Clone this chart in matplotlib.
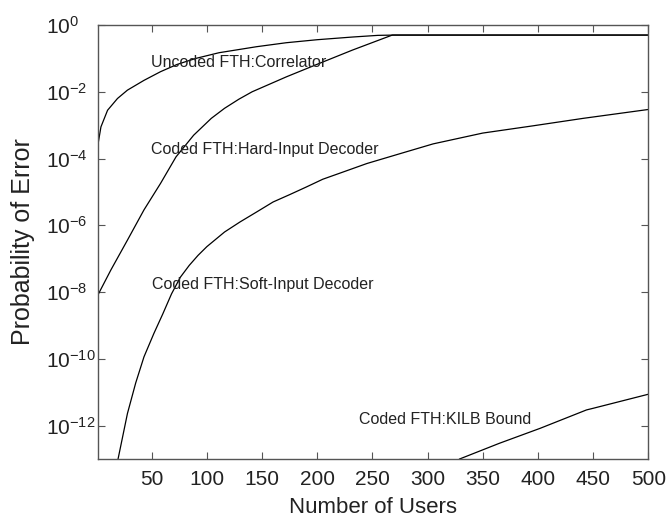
import matplotlib
matplotlib.use('Agg')

import numpy as np
import matplotlib.pyplot as plt
from matplotlib.ticker import FixedLocator, LogFormatterMathtext, NullLocator

plt.rcParams['font.family'] = 'Liberation Sans'
plt.rcParams['mathtext.fontset'] = 'custom'
plt.rcParams['mathtext.rm'] = 'Liberation Sans'
plt.rcParams['mathtext.it'] = 'Liberation Sans'
plt.rcParams['mathtext.default'] = 'regular'

# values (probability of error vs number of users)
uncoded_x = [1, 4, 10, 19, 28, 43, 58, 73, 90, 111, 145, 172, 200, 232, 255, 270, 500]
uncoded_p = [2.3e-4, 8.9e-4, 2.8e-3, 6.3e-3, 1.12e-2, 2.2e-2, 4.0e-2, 6.6e-2, 0.10,
             0.148, 0.224, 0.295, 0.363, 0.437, 0.49, 0.5, 0.5]

hard_x = [1, 13, 28, 43, 58, 72, 88, 104, 116, 129, 141, 172, 202, 232, 268, 500]
hard_p = [7.9e-9, 4.6e-8, 3.6e-7, 2.9e-6, 1.8e-5, 1.12e-4, 5.0e-4, 1.6e-3, 3.2e-3,
          6.0e-3, 1.0e-2, 2.8e-2, 7.1e-2, 0.178, 0.5, 0.5]

soft_x = [19.5, 28, 35.5, 43, 52, 60, 68, 76, 84, 92, 100, 116, 130, 145, 160, 175,
          190, 205, 220, 245, 275, 305, 350, 395, 441, 500]
soft_p = [1.0e-13, 2.3e-12, 1.9e-11, 1.15e-10, 5.8e-10, 2.2e-9, 8.9e-9, 2.8e-8,
          6.3e-8, 1.26e-7, 2.3e-7, 6.3e-7, 1.26e-6, 2.5e-6, 5.0e-6, 8.3e-6,
          1.4e-5, 2.4e-5, 3.6e-5, 7.1e-5, 1.4e-4, 2.75e-4, 5.8e-4, 9.5e-4,
          1.6e-3, 2.95e-3]

kilb_x = [329, 365, 402, 444, 450, 500]
kilb_p = [1.0e-13, 2.95e-13, 8.3e-13, 2.95e-12, 3.3e-12, 8.7e-12]

xticks = [50, 100, 150, 200, 250, 300, 350, 400, 450, 500]
yticks = [1e-12, 1e-10, 1e-8, 1e-6, 1e-4, 1e-2, 1e0]

fig = plt.figure(figsize=(6.66, 5.18), dpi=100)
ax = fig.add_axes([0.1466, 0.1139, 0.8268, 0.8378])

for xs, ps in [(uncoded_x, uncoded_p), (hard_x, hard_p), (soft_x, soft_p), (kilb_x, kilb_p)]:
    ax.plot(xs, ps, color='black', linewidth=0.9)

ax.set_yscale('log')
ax.set_xlim(1, 500)
ax.set_ylim(1e-13, 1)
ax.xaxis.set_major_locator(FixedLocator(xticks))
ax.yaxis.set_major_locator(FixedLocator(yticks))
ax.yaxis.set_major_formatter(LogFormatterMathtext())
ax.yaxis.set_minor_locator(NullLocator())
ax.tick_params(direction='in', top=True, right=True, length=5, width=0.8,
               color='#555555', labelsize=15, labelcolor='#222222')
ax.tick_params(axis='x', pad=8)
# the "10" of every y label starts at the same x, exponent sticks out to the right
ax.tick_params(axis='y', pad=37)
for lab in ax.get_yticklabels():
    lab.set_horizontalalignment('left')
for s in ax.spines.values():
    s.set_color('#555555')
    s.set_linewidth(1.0)

ax.set_xlabel('Number of Users', fontsize=16, color='#222222', labelpad=6)
ax.set_ylabel('Probability of Error', fontsize=18, color='#222222')
ax.yaxis.set_label_coords(-0.113, 0.5)

tkw = dict(fontsize=11.5, color='#222222', va='center', ha='left')
ax.text(49.4, 10 ** -1.11, 'Uncoded FTH:Correlator', **tkw)
ax.text(49.4, 10 ** -3.74, 'Coded FTH:Hard-Input Decoder', **tkw)
ax.text(50.3, 10 ** -7.76, 'Coded FTH:Soft-Input Decoder', **tkw)
ax.text(238, 10 ** -11.83, 'Coded FTH:KILB Bound', **tkw)

fig.savefig('out.png', dpi=100)
